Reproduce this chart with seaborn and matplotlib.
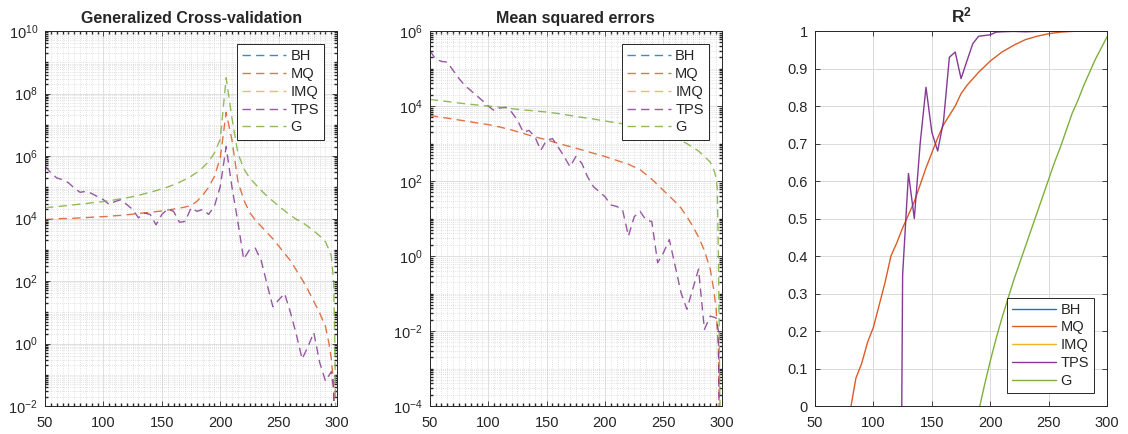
import numpy as np
import pandas as pd
import matplotlib
matplotlib.use("Agg")
import matplotlib.pyplot as plt
import matplotlib.ticker as mticker
import seaborn as sns

# ---------------- data ----------------
series_names = ["BH", "MQ", "IMQ", "TPS", "G"]
series_colors = {"BH": "#0072BD", "MQ": "#D95319", "IMQ": "#EDB120",
                 "TPS": "#7E2F8E", "G": "#77AC30"}

# Generalized cross-validation
gcv_mq_x = [50, 55, 60, 65, 70, 75, 80, 85, 90, 95, 100, 105, 110, 115, 120, 125, 130, 135, 140, 145,
            150, 155, 160, 165, 170, 175, 180, 185, 190, 195, 200, 205, 210, 215, 220, 225, 230, 235, 240,
            245, 250, 255, 260, 265, 270, 275, 280, 285, 290, 293, 295, 297, 298, 300]
gcv_mq_y = [9.3e3, 9.5e3, 9.8e3, 1.0e4, 1.0e4, 1.02e4, 1.05e4, 1.07e4, 1.1e4, 1.12e4, 1.15e4, 1.17e4,
            1.23e4, 1.26e4, 1.32e4, 1.38e4, 1.45e4, 1.51e4, 1.58e4, 1.66e4, 1.74e4, 1.86e4, 2.0e4,
            2.14e4, 2.34e4, 2.63e4, 3.55e4, 5.6e4, 1.0e5, 2.24e5, 8.9e5, 2.5e7, 3.2e6, 1.6e5, 4.0e4,
            1.6e4, 8.9e3, 5.6e3, 3.55e3, 2.24e3, 1.32e3, 7.6e2, 4.5e2, 2.24e2, 1.12e2, 5.2e1, 2.24e1,
            9.5, 3.5, 1.0, 3.2e-1, 5.0e-2, 1.0e-3, 1.0e-6]
gcv_tps_x = [50, 55, 60, 65, 70, 75, 80, 85, 90, 95, 100, 105, 110, 115, 120, 125, 130, 135, 140, 145,
             150, 155, 160, 165, 170, 175, 180, 185, 190, 195, 200, 205, 210, 215, 220, 225, 230, 235, 240,
             245, 250, 255, 260, 265, 270, 275, 280, 285, 290, 295, 297, 298, 300]
gcv_tps_y = [4.7e5, 2.9e5, 2.0e5, 1.74e5, 1.4e5, 9.5e4, 6.9e4, 7.4e4, 6.3e4, 5.0e4, 4.0e4, 2.8e4,
             3.5e4, 4.0e4, 2.8e4, 1.95e4, 1.05e4, 1.5e4, 1.35e4, 6.3e3, 1.35e4, 2.0e4, 1.7e4, 7.6e3,
             8.1e3, 2.2e4, 1.7e4, 1.95e4, 1.35e4, 2.5e4, 1.07e5, 2.0e6, 1.0e5, 7.9e3, 5.0e2, 1.0e3,
             1.12e3, 4.5e2, 7.9e1, 1.5e1, 2.5e1, 4.0e1, 1.0e1, 2.0, 3.2e-1, 7.9e-1, 2.24, 2.5e-1,
             6.3e-2, 1.26e-1, 3.2e-2, 1.0e-3, 1.0e-6]
gcv_g_x = [50, 55, 60, 65, 70, 75, 80, 85, 90, 95, 100, 105, 110, 115, 120, 125, 130, 135, 140, 145,
           150, 155, 160, 165, 170, 175, 180, 185, 190, 195, 200, 205, 210, 215, 220, 225, 230, 235, 240,
           245, 250, 255, 260, 265, 270, 275, 280, 285, 290, 293, 295, 297, 298, 300]
gcv_g_y = [2.2e4, 2.3e4, 2.4e4, 2.5e4, 2.6e4, 2.75e4, 2.9e4, 3.0e4, 3.2e4, 3.3e4, 3.5e4, 3.7e4,
           4.0e4, 4.3e4, 4.6e4, 5.0e4, 5.5e4, 6.2e4, 6.9e4, 7.8e4, 8.9e4, 1.02e5, 1.2e5, 1.45e5,
           1.78e5, 2.24e5, 3.0e5, 4.3e5, 6.6e5, 1.26e6, 3.5e6, 3.2e8, 1.6e7, 1.26e6, 4.0e5, 2.0e5,
           1.26e5, 7.9e4, 5.2e4, 3.6e4, 2.5e4, 1.78e4, 1.26e4, 9.5e3, 7.6e3, 5.6e3, 4.0e3, 2.8e3,
           1.8e3, 1.0e3, 6.3e2, 1.0e2, 1.0, 1.0e-6]

# Mean squared errors
mse_mq_x = [50, 60, 70, 80, 90, 100, 110, 120, 130, 140, 150, 160, 170, 180, 190, 200, 210, 220, 230,
            240, 250, 260, 265, 270, 275, 280, 285, 290, 293, 295, 297, 298, 300]
mse_mq_y = [5.6e3, 5.0e3, 4.5e3, 4.0e3, 3.55e3, 3.2e3, 2.75e3, 2.3e3, 1.86e3, 1.5e3, 1.26e3, 1.0e3,
            8.3e2, 6.8e2, 5.5e2, 4.5e2, 3.55e2, 2.8e2, 2.0e2, 1.12e2, 5.6e1, 2.8e1, 1.9e1, 1.12e1,
            6.3, 3.2, 1.4, 4.5e-1, 1.26e-1, 4.0e-2, 3.2e-3, 1.0e-5, 1.0e-8]
mse_tps_x = [50, 55, 60, 65, 70, 75, 80, 85, 90, 95, 100, 105, 110, 115, 120, 125, 130, 135, 140, 145,
             150, 155, 160, 165, 170, 175, 180, 185, 190, 195, 200, 205, 210, 215, 220, 225, 230, 235, 240,
             245, 250, 255, 260, 265, 270, 275, 280, 285, 290, 295, 297, 298, 300]
mse_tps_y = [3.0e5, 1.8e5, 1.55e5, 1.48e5, 8.9e4, 5.4e4, 3.55e4, 2.6e4, 1.9e4, 1.4e4, 1.0e4, 7.6e3,
             8.9e3, 9.3e3, 6.9e3, 4.2e3, 2.0e3, 2.24e3, 1.5e3, 6.6e2, 1.23e3, 1.35e3, 7.9e2, 4.5e2,
             2.4e2, 4.5e2, 3.0e2, 1.3e2, 7.1e1, 5.2e1, 3.8e1, 2.3e1, 2.1e1, 1.7e1, 3.4, 1.12e1,
             1.55e1, 9.1, 8.3, 6.6e-1, 1.23, 2.75, 5.4e-1, 1.05e-1, 3.8e-2, 1.3e-1, 4.5e-1, 1.1e-2,
             2.5e-2, 2.24e-2, 1.0e-2, 1.0e-6, 1.0e-8]
mse_g_x = [50, 60, 70, 80, 90, 100, 110, 120, 130, 140, 150, 160, 170, 180, 190, 200, 210, 220, 230,
           240, 250, 260, 270, 280, 285, 290, 293, 295, 296, 297, 298, 300]
mse_g_y = [1.5e4, 1.38e4, 1.26e4, 1.15e4, 1.07e4, 1.0e4, 9.3e3, 8.5e3, 7.9e3, 7.4e3, 6.9e3, 6.3e3,
           5.6e3, 5.0e3, 4.5e3, 4.0e3, 3.55e3, 3.2e3, 2.75e3, 2.34e3, 1.86e3, 1.41e3, 1.0e3, 6.3e2,
           4.5e2, 3.2e2, 2.0e2, 1.26e2, 6.3e1, 1.0, 1.0e-3, 1.0e-8]

# R^2
r2_mq_x = [75, 80, 85, 90, 95, 100, 105, 110, 115, 120, 125, 130, 135, 140, 145, 150, 155, 160, 165,
           170, 175, 180, 190, 200, 210, 220, 230, 240, 250, 260, 270, 280, 290, 300]
r2_mq_y = [-0.08, -0.015, 0.074, 0.114, 0.17, 0.21, 0.27, 0.33, 0.40, 0.435, 0.475, 0.51, 0.545,
           0.59, 0.635, 0.675, 0.715, 0.75, 0.775, 0.80, 0.833, 0.855, 0.89, 0.92, 0.944, 0.962,
           0.977, 0.986, 0.993, 0.997, 0.999, 1.0, 1.0, 1.0]
r2_tps_x = [115, 120, 125, 130, 135, 140, 145, 150, 155, 160, 165, 170, 175, 180, 185, 190, 195, 200,
            205, 210, 220, 230, 240, 250, 260, 270, 280, 290, 300]
r2_tps_y = [-3.0, -2.0, 0.35, 0.62, 0.50, 0.70, 0.85, 0.73, 0.68, 0.76, 0.93, 0.944, 0.873, 0.92,
            0.966, 0.986, 0.988, 0.99, 0.997, 0.998, 0.999, 0.998, 0.999, 1.0, 1.0, 1.0, 1.0, 1.0, 1.0]
r2_g_x = [185, 190, 195, 200, 205, 210, 215, 220, 225, 230, 235, 240, 245, 250, 255, 260, 265, 270,
          275, 280, 285, 290, 295, 300]
r2_g_y = [-0.08, -0.015, 0.055, 0.12, 0.18, 0.235, 0.285, 0.335, 0.38, 0.425, 0.47, 0.515, 0.56,
          0.605, 0.65, 0.69, 0.735, 0.78, 0.815, 0.855, 0.89, 0.925, 0.955, 0.985]

x_ticks = [50, 100, 150, 200, 250, 300]

# ---------------- style ----------------
sns.set_theme(style="ticks", rc={
    "axes.edgecolor": "#262626",
    "axes.linewidth": 0.7,
    "xtick.color": "#262626",
    "ytick.color": "#262626",
    "xtick.direction": "in",
    "ytick.direction": "in",
    "xtick.top": True,
    "ytick.right": True,
    "xtick.major.size": 3.5,
    "ytick.major.size": 3.5,
    "xtick.minor.size": 2,
    "ytick.minor.size": 2,
    "xtick.major.width": 0.6,
    "ytick.major.width": 0.6,
    "xtick.major.pad": 7,
    "ytick.major.pad": 5,
    "xtick.labelsize": 10.5,
    "ytick.labelsize": 10.5,
})
plt.rcParams["font.family"] = ["Liberation Sans", "DejaVu Sans"]
plt.rcParams["mathtext.fontset"] = "custom"
plt.rcParams["mathtext.rm"] = "Liberation Sans"
plt.rcParams["mathtext.it"] = "Liberation Sans:italic"
plt.rcParams["mathtext.bf"] = "Liberation Sans:bold"

fig = plt.figure(figsize=(11.28, 4.34), dpi=100)
ax_w, ax_h, ax_b = 0.259, 0.864, 0.0645
axes = [fig.add_axes([l, ax_b, ax_w, ax_h]) for l in (0.0399, 0.381, 0.7225)]

dash = (0, (6, 3.8))


def draw_panel(ax, data, ls, alpha):
    for name in series_names:
        col = series_colors[name]
        if name in data:
            xs, ys = data[name]
            df = pd.DataFrame({"x": xs, "y": ys})
            sns.lineplot(data=df, x="x", y="y", ax=ax, color=col, linewidth=1.0, alpha=alpha,
                         linestyle=ls, estimator=None, sort=False, label=name)
        else:
            ax.plot([], [], color=col, linewidth=1.0, alpha=alpha, linestyle=ls, label=name)


def log_grid(ax, lo, hi):
    ax.set_yscale("log")
    ax.set_ylim(10.0 ** lo, 10.0 ** hi)
    ax.yaxis.set_major_locator(mticker.FixedLocator([10.0 ** e for e in range(lo, hi + 1, 2)]))
    ax.yaxis.set_major_formatter(mticker.LogFormatterMathtext())
    minors = [m * 10.0 ** e for e in range(lo, hi) for m in range(1, 10)]
    ax.yaxis.set_minor_locator(mticker.FixedLocator(minors))
    ax.yaxis.set_minor_formatter(mticker.NullFormatter())
    ax.xaxis.set_minor_locator(mticker.MultipleLocator(5))
    ax.grid(True, which="major", color="#dadada", linewidth=0.6, linestyle="-")
    ax.grid(True, which="minor", color="#c8c8c8", linewidth=0.5, linestyle=(0, (1, 2)))


# Panel 1
ax = axes[0]
log_grid(ax, -2, 10)
draw_panel(ax, {"MQ": (gcv_mq_x, gcv_mq_y), "TPS": (gcv_tps_x, gcv_tps_y),
                "G": (gcv_g_x, gcv_g_y)}, dash, 0.8)
ax.set_title("Generalized Cross-validation", fontsize=11.5, fontweight="bold", pad=6)

# Panel 2
ax = axes[1]
log_grid(ax, -4, 6)
draw_panel(ax, {"MQ": (mse_mq_x, mse_mq_y), "TPS": (mse_tps_x, mse_tps_y),
                "G": (mse_g_x, mse_g_y)}, dash, 0.8)
ax.set_title("Mean squared errors", fontsize=11.5, fontweight="bold", pad=6)

# Panel 3
ax = axes[2]
ax.set_ylim(0, 1)
ax.yaxis.set_major_locator(mticker.MultipleLocator(0.1))
ax.yaxis.set_major_formatter(mticker.FuncFormatter(lambda v, p: f"{round(v, 1):g}"))
ax.grid(True, which="major", color="#dadada", linewidth=0.7, linestyle="-")
draw_panel(ax, {"MQ": (r2_mq_x, r2_mq_y), "TPS": (r2_tps_x, r2_tps_y),
                "G": (r2_g_x, r2_g_y)}, "-", 0.95)
ax.set_title(r"$\mathbf{R^2}$", fontsize=12.5, pad=6)

for i, ax in enumerate(axes):
    ax.set_xlim(50, 300)
    ax.set_xticks(x_ticks)
    ax.set_xlabel("")
    ax.set_ylabel("")
    ax.set_axisbelow(True)
    loc = "lower right" if i == 2 else "upper right"
    leg = ax.legend(loc=loc, fontsize=10.5, frameon=True, fancybox=False, framealpha=1,
                    edgecolor="#262626", handlelength=3.0, handletextpad=0.3,
                    labelspacing=0.26, borderpad=0.35, borderaxespad=0.9)
    leg.get_frame().set_linewidth(0.7)
    for sp in ax.spines.values():
        sp.set_visible(True)

fig.savefig("out.png", dpi=100)
